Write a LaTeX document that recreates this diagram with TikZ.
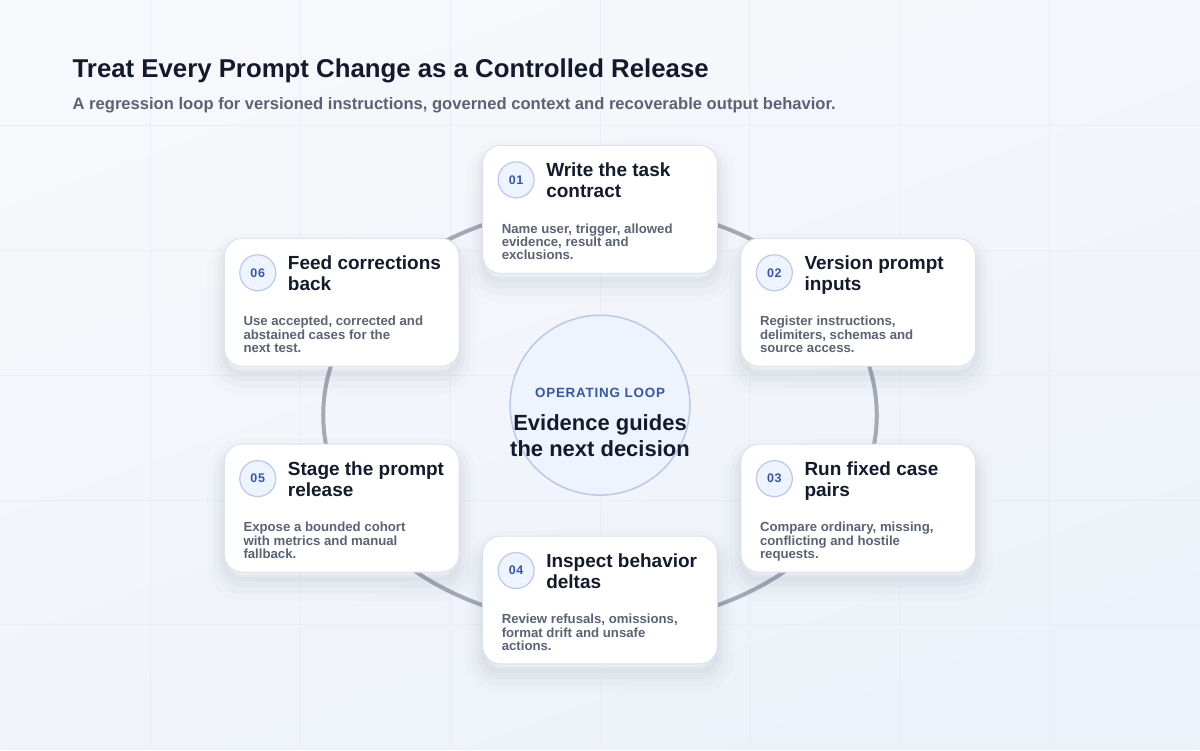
\documentclass[tikz,border=0pt]{standalone}
\usepackage{fontspec}
\setmainfont{Liberation Sans}
\newfontfamily\spacedsans[LetterSpace=6]{Liberation Sans}
\usetikzlibrary{positioning}

\definecolor{inkdark}{HTML}{131A2B}
\definecolor{inkgray}{HTML}{5A6376}
\definecolor{loopblue}{HTML}{3557A8}
\definecolor{badgefill}{HTML}{EEF4FD}
\definecolor{badgeline}{HTML}{B8CAE8}
\definecolor{cardline}{HTML}{DDE3EC}
\definecolor{ringgray}{HTML}{A3A9B5}
\definecolor{shadowtone}{HTML}{3A4A6B}
\definecolor{bgtop}{HTML}{F7F8FB}
\definecolor{bgbottom}{HTML}{EDF2FA}
\definecolor{gridline}{HTML}{EAEEF4}

\begin{document}
\begin{tikzpicture}[x=1pt,y=-1pt]
  \tikzset{
    card/.style={draw=cardline, line width=1pt, fill=white, rounded corners=18pt,
      minimum width=235pt, minimum height=128pt, inner sep=0pt,
      preaction={draw=shadowtone, line width=34pt, opacity=.015, transform canvas={yshift=-12pt}},
      preaction={draw=shadowtone, line width=22pt, opacity=.022, transform canvas={yshift=-11pt}},
      preaction={draw=shadowtone, line width=12pt, opacity=.03, transform canvas={yshift=-9pt}},
      preaction={draw=shadowtone, line width=4pt, opacity=.03, transform canvas={yshift=-7pt}}},
    badge/.style={circle, draw=badgeline, line width=1.2pt, fill=badgefill,
      minimum size=36pt, inner sep=0pt, text=loopblue,
      font=\spacedsans\fontsize{12.5}{14}\selectfont\bfseries},
    card-title/.style={anchor=north west, align=left, inner sep=0pt, text=inkdark,
      font=\fontsize{19}{21}\selectfont\bfseries},
    card-text/.style={anchor=north west, align=left, inner sep=0pt, text=inkgray,
      font=\fontsize{13.2}{13.4}\selectfont\bfseries},
    hub/.style={circle, draw=badgeline, line width=1.5pt, fill=badgefill,
      minimum size=180pt, inner sep=0pt},
  }
    % Background and grid
    \shade[top color=bgtop, bottom color=bgbottom, shading angle=20] (0,0) rectangle (1200,750);
    \foreach \gx in {150,300,...,1050} \draw[gridline, line width=1pt] (\gx,0) -- (\gx,750);
    \foreach \gy in {125,250,...,625} \draw[gridline, line width=1pt] (0,\gy) -- (1200,\gy);
    \useasboundingbox (0,0) rectangle (1200,750);
    % Heading
    \node[anchor=base west, inner sep=0pt, text=inkdark, font=\fontsize{25.8}{30}\selectfont\bfseries]
      (heading) at (72,77) {Treat Every Prompt Change as a Controlled Release};
    \node[anchor=base west, inner sep=0pt, text=inkgray, font=\fontsize{16.6}{18}\selectfont\bfseries]
      (subheading) at (72,109) {A regression loop for versioned instructions, governed context and recoverable output behavior.};
    % Loop ring and hub
    \draw[ringgray, line width=4pt] (600,415) ellipse [x radius=277pt, y radius=210pt];
    \node[hub] (operating-loop) at (600,405) {};
    \node[anchor=base, inner sep=0pt, text=loopblue, font=\spacedsans\fontsize{13.4}{16}\selectfont\bfseries]
      (loop-label) at (600,397) {OPERATING LOOP};
    \node[anchor=north, align=center, inner sep=0pt, text=inkdark, font=\fontsize{22}{26}\selectfont\bfseries]
      (loop-text) at (600,414) {Evidence guides\\the next decision};
    % Cards
    \node[card] (task-contract) at (600,209) {};
    \node[card] (prompt-inputs) at (858.5,302) {};
    \node[card] (case-pairs) at (858.5,508) {};
    \node[card] (behavior-deltas) at (600,600) {};
    \node[card] (prompt-release) at (341.5,508) {};
    \node[card] (corrections) at (341.5,302) {};
    % Card 01
    \node[badge] (task-contract-num) at ([shift={(34,35)}]task-contract.north west) {01};
    \node[card-title] (task-contract-title) at ([shift={(64,18)}]task-contract.north west) {Write the task\\contract};
    \node[card-text] (task-contract-text) at ([shift={(19.5,78.5)}]task-contract.north west) {Name user, trigger, allowed\\evidence, result and\\exclusions.};
    % Card 02
    \node[badge] (prompt-inputs-num) at ([shift={(34,35)}]prompt-inputs.north west) {02};
    \node[card-title] (prompt-inputs-title) at ([shift={(64,18)}]prompt-inputs.north west) {Version prompt\\inputs};
    \node[card-text] (prompt-inputs-text) at ([shift={(19.5,78.5)}]prompt-inputs.north west) {Register instructions,\\delimiters, schemas and\\source access.};
    % Card 03
    \node[badge] (case-pairs-num) at ([shift={(34,35)}]case-pairs.north west) {03};
    \node[card-title] (case-pairs-title) at ([shift={(64,18)}]case-pairs.north west) {Run fixed case\\pairs};
    \node[card-text] (case-pairs-text) at ([shift={(19.5,78.5)}]case-pairs.north west) {Compare ordinary, missing,\\conflicting and hostile\\requests.};
    % Card 04
    \node[badge] (behavior-deltas-num) at ([shift={(34,35)}]behavior-deltas.north west) {04};
    \node[card-title] (behavior-deltas-title) at ([shift={(64,18)}]behavior-deltas.north west) {Inspect behavior\\deltas};
    \node[card-text] (behavior-deltas-text) at ([shift={(19.5,78.5)}]behavior-deltas.north west) {Review refusals, omissions,\\format drift and unsafe\\actions.};
    % Card 05
    \node[badge] (prompt-release-num) at ([shift={(34,35)}]prompt-release.north west) {05};
    \node[card-title] (prompt-release-title) at ([shift={(64,18)}]prompt-release.north west) {Stage the prompt\\release};
    \node[card-text] (prompt-release-text) at ([shift={(19.5,78.5)}]prompt-release.north west) {Expose a bounded cohort\\with metrics and manual\\fallback.};
    % Card 06
    \node[badge] (corrections-num) at ([shift={(34,35)}]corrections.north west) {06};
    \node[card-title] (corrections-title) at ([shift={(64,18)}]corrections.north west) {Feed corrections\\back};
    \node[card-text] (corrections-text) at ([shift={(19.5,78.5)}]corrections.north west) {Use accepted, corrected and\\abstained cases for the\\next test.};
  \end{tikzpicture}
\end{document}
